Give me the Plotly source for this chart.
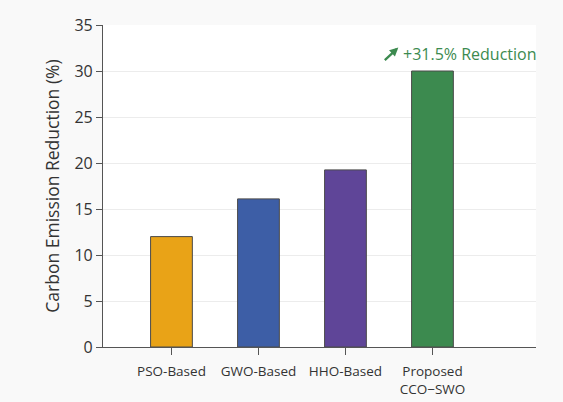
import plotly.graph_objects as go

# Data
methods = ["PSO-Based", "GWO-Based", "HHO-Based", "Proposed<br>CCO\u2212SWO"]
reduction = [12.0, 16.1, 19.25, 30.0]
bar_colors = ["#E9A317", "#3D5EA6", "#5F4598", "#3C8A4F"]
y_ticks = [0, 5, 10, 15, 20, 25, 30, 35]
highlight_text = "+31.5% Reduction"
highlight_color = "#3C8A4F"

fig = go.Figure()
fig.add_trace(go.Bar(
    x=methods,
    y=reduction,
    width=0.48,
    marker=dict(color=bar_colors, line=dict(color="#4a4a4a", width=1)),
    hoverinfo="x+y",
))

# Label above the proposed method's bar
fig.add_annotation(
    x=methods[3], y=reduction[3], xref="x", yref="y",
    text=highlight_text, showarrow=False,
    xanchor="left", yanchor="bottom", xshift=-31, yshift=4,
    font=dict(family="Open Sans", size=16, color=highlight_color),
)
# Small upward arrow in front of the label
fig.add_annotation(
    x=0.682, y=0.93, xref="paper", yref="paper",
    text="", showarrow=True,
    ax=-15, ay=14,
    arrowhead=2, arrowsize=0.75, arrowwidth=2.3, arrowcolor=highlight_color,
)

fig.update_layout(
    width=563, height=402,
    margin=dict(l=103, r=27, t=25, b=55),
    paper_bgcolor="#f9f9f9",
    plot_bgcolor="#ffffff",
    font=dict(family="Open Sans", color="#333333"),
    showlegend=False,
    bargap=0.5,
)
fig.update_xaxes(
    type="category",
    range=[-0.787, 4.19],
    automargin=False,
    showline=True, linecolor="#555555", linewidth=1.2,
    ticks="outside", ticklen=7, tickcolor="#555555",
    ticklabelstandoff=5,
    tickfont=dict(size=13.5, color="#333333"),
    showgrid=False,
)
fig.update_yaxes(
    range=[0, 35],
    tickvals=y_ticks,
    showline=True, linecolor="#555555", linewidth=1.2,
    ticks="outside", ticklen=6, tickcolor="#555555",
    tickfont=dict(size=16, color="#333333"),
    showgrid=True, gridcolor="#ececec", gridwidth=1,
    zeroline=False,
    title=dict(text="Carbon Emission Reduction (%)",
               font=dict(size=17.5, color="#333333"), standoff=10),
)

fig.write_html("out.html")
